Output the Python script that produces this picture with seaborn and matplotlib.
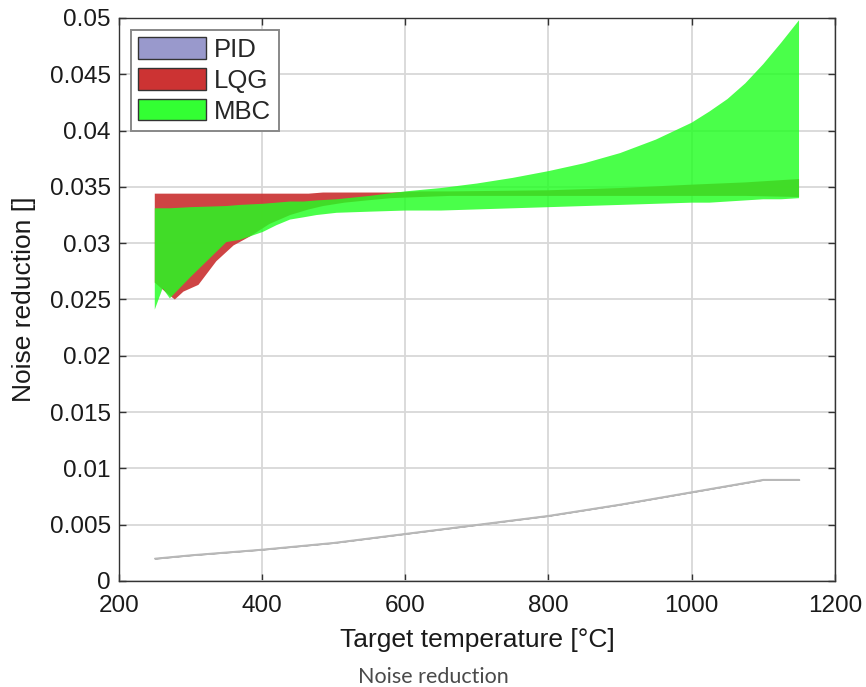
import numpy as np
import pandas as pd
import seaborn as sns
import matplotlib
matplotlib.use("Agg")
import matplotlib.pyplot as plt
from matplotlib.patches import Patch
from matplotlib.ticker import FuncFormatter

# ---- data -------------------------------------------------------------
series_names = ["PID", "LQG", "MBC"]

pid_temp = [250, 300, 400, 500, 600, 700, 800, 900, 1000, 1100, 1150]
pid_value = [0.0020, 0.0023, 0.0028, 0.0034, 0.0042, 0.0050, 0.0058,
             0.0068, 0.0079, 0.0090, 0.0090]

lqg_temp = [250, 268, 278, 290, 311, 336, 360, 383, 410, 439, 465, 485, 515,
            546, 580, 620, 662, 800, 900, 1000, 1075, 1150]
lqg_low = [0.0265, 0.0255, 0.0250, 0.0257, 0.0263, 0.0284, 0.0298, 0.0306,
           0.0317, 0.0325, 0.0330, 0.0333, 0.0336, 0.0338, 0.0340, 0.0341,
           0.0342, 0.0342, 0.0342, 0.0342, 0.0342, 0.0341]
lqg_high = [0.0344, 0.0344, 0.0344, 0.0344, 0.0344, 0.0344, 0.0344, 0.0344,
            0.0344, 0.0344, 0.0344, 0.0345, 0.0345, 0.0345, 0.0345, 0.0346,
            0.0346, 0.0347, 0.0349, 0.0352, 0.0354, 0.0357]

mbc_temp = [250, 261, 271, 300, 350, 369, 401, 420, 439, 458, 476, 504, 550,
            600, 650, 700, 750, 800, 850, 900, 950, 1000, 1025, 1050, 1075,
            1100, 1125, 1150]
mbc_low = [0.0241, 0.0260, 0.0251, 0.0270, 0.0301, 0.0303, 0.0310, 0.0316,
           0.0321, 0.0323, 0.0325, 0.0327, 0.0328, 0.0329, 0.0329, 0.0330,
           0.0331, 0.0332, 0.0333, 0.0334, 0.0335, 0.0336, 0.0336, 0.0337,
           0.0338, 0.0339, 0.0339, 0.0340]
mbc_high = [0.0331, 0.0331, 0.0331, 0.0332, 0.0333, 0.0334, 0.0335, 0.0336,
            0.0337, 0.0337, 0.0338, 0.0339, 0.0342, 0.0346, 0.0349, 0.0353,
            0.0358, 0.0364, 0.0371, 0.0380, 0.0392, 0.0407, 0.0417, 0.0428,
            0.0442, 0.0459, 0.0478, 0.0498]

x_ticks = [200, 400, 600, 800, 1000, 1200]
y_ticks = [0, 0.005, 0.01, 0.015, 0.02, 0.025, 0.03, 0.035, 0.04, 0.045, 0.05]

colors = {"PID": "#9999cc", "LQG": "#cc3333", "MBC": "#33ff33"}

# ---- style ------------------------------------------------------------
sns.set_theme(style="whitegrid")
plt.rcParams["font.family"] = ["Liberation Sans", "DejaVu Sans"]

fig = plt.figure(figsize=(8.66, 6.87), dpi=100)
ax = fig.add_axes([0.1374, 0.1543, 0.8266, 0.8195])

pid_df = pd.DataFrame({"temp": pid_temp, "value": pid_value})

# bands
ax.fill_between(pid_temp, pid_value, pid_value, facecolor=colors["PID"],
                edgecolor="#b8b8b8", linewidth=1.0, zorder=2)
sns.lineplot(data=pid_df, x="temp", y="value", ax=ax, color="#b8b8b8",
             linewidth=1.1, zorder=2)
ax.fill_between(lqg_temp, lqg_low, lqg_high, facecolor="#cc3a3a",
                edgecolor="none", alpha=0.95, zorder=3)
ax.fill_between(mbc_temp, mbc_low, mbc_high, facecolor="#22ff22",
                edgecolor="none", alpha=0.82, zorder=4)

# axes
ax.set_xlim(200, 1200)
ax.set_ylim(0, 0.05)
ax.set_xticks(x_ticks)
ax.set_yticks(y_ticks)
ax.yaxis.set_major_formatter(FuncFormatter(lambda v, p: f"{v:g}"))
ax.xaxis.set_major_formatter(FuncFormatter(lambda v, p: f"{v:g}"))

ax.grid(True, color="#d8d8d8", linewidth=1.3)
ax.set_axisbelow(True)
for side in ["left", "right", "top", "bottom"]:
    ax.spines[side].set_visible(True)
    ax.spines[side].set_color("#333333")
    ax.spines[side].set_linewidth(1.0)
ax.tick_params(axis="both", which="major", direction="in", length=5,
               width=1, color="#333333", labelsize=17.5, labelcolor="#1a1a1a",
               top=True, right=True, bottom=True, left=True, pad=6)
ax.tick_params(axis="x", pad=10)

ax.set_xlabel("Target temperature [°C]", fontsize=19, color="#1a1a1a",
              labelpad=8)
ax.set_ylabel("Noise reduction []", fontsize=19, color="#1a1a1a",
              labelpad=10)

handles = [Patch(facecolor=colors[n], edgecolor="#333333", linewidth=1.0)
           for n in series_names]
leg = ax.legend(handles, series_names, loc="upper left", fontsize=18.5,
                frameon=True, fancybox=False, framealpha=1,
                edgecolor="#888888", handlelength=2.65, handleheight=0.9,
                handletextpad=0.3, labelspacing=0.25, borderpad=0.3,
                borderaxespad=0.45)
leg.get_frame().set_linewidth(1.4)
leg.set_zorder(10)

fig.text(0.5, 0.0146, "Noise reduction", ha="center", va="center",
         fontsize=15.5, color="#4a4a4a", family=["Lato", "DejaVu Sans"],
         fontweight="normal")

fig.savefig("out.png", dpi=100)
